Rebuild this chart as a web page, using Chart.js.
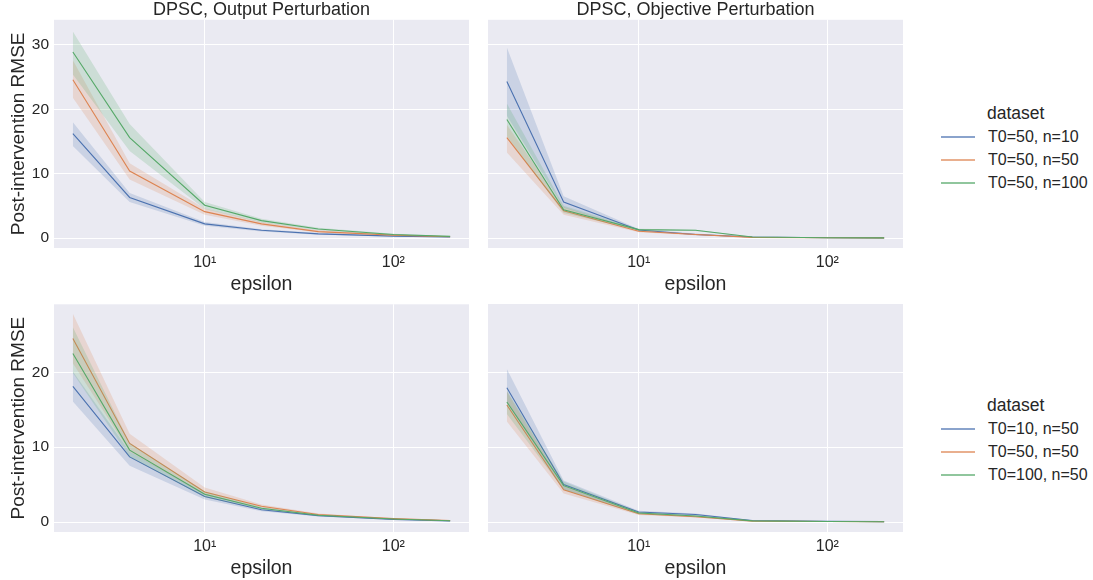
<!DOCTYPE html>
<html>
<head>
<meta charset="utf-8">
<script src="https://cdn.jsdelivr.net/npm/chart.js@4"></script>
<style>
  body { margin: 0; background: #fff; font-family: "Liberation Sans", Arial, sans-serif; color: #262626; }
  #wrap { position: relative; width: 1093px; height: 580px; overflow: hidden; }
  .box { position: absolute; }
  .legtitle, .legtext { position: absolute; white-space: nowrap; line-height: 20px; }
  .legtitle { font-size: 17.5px; }
  .legtext { font-size: 16px; }
  .legline { position: absolute; width: 34px; height: 2px; }
</style>
</head>
<body>
<div id="wrap">
  <div class="box" style="left:0;top:0;width:469px;height:300px"><canvas id="c1"></canvas></div>
  <div class="box" style="left:470px;top:0;width:433px;height:300px"><canvas id="c2"></canvas></div>
  <div class="box" style="left:0;top:290px;width:469px;height:290px"><canvas id="c3"></canvas></div>
  <div class="box" style="left:470px;top:290px;width:433px;height:290px"><canvas id="c4"></canvas></div>
  <div id="leg1"></div>
  <div id="leg2"></div>
</div>
<script>
// x values (epsilon) and axis ticks
var eps = [2, 4, 10, 20, 40, 100, 200];
var xTicks = [10, 100];
var xTickLabels = ['10\u00b9', '10\u00b2'];

// top row legend / bottom row legend
var topLabels = ['T0=50, n=10', 'T0=50, n=50', 'T0=50, n=100'];
var botLabels = ['T0=10, n=50', 'T0=50, n=50', 'T0=100, n=50'];

// DPSC, Output Perturbation - varying n
var opN10    = [16.2, 6.3, 2.2, 1.2, 0.65, 0.3, 0.15];
var opN10Lo  = [14.3, 5.6, 1.9, 1.0, 0.5, 0.22, 0.1];
var opN10Hi  = [18.0, 7.0, 2.5, 1.35, 0.8, 0.38, 0.2];
var opN50    = [24.6, 10.4, 4.1, 2.2, 1.0, 0.45, 0.2];
var opN50Lo  = [21.8, 9.1, 3.6, 1.9, 0.85, 0.37, 0.15];
var opN50Hi  = [27.6, 11.6, 4.6, 2.5, 1.2, 0.55, 0.25];
var opN100   = [28.9, 15.6, 5.1, 2.7, 1.4, 0.55, 0.25];
var opN100Lo = [25.4, 13.5, 4.5, 2.4, 1.2, 0.45, 0.2];
var opN100Hi = [32.1, 17.7, 5.6, 3.0, 1.6, 0.65, 0.3];

// DPSC, Objective Perturbation - varying n
var objN10    = [24.3, 5.6, 1.25, 0.55, 0.15, 0.05, 0.03];
var objN10Lo  = [19.0, 4.7, 1.1, 0.45, 0.1, 0.03, 0.02];
var objN10Hi  = [29.6, 6.5, 1.4, 0.7, 0.2, 0.08, 0.05];
var objN50    = [15.6, 4.25, 1.05, 0.55, 0.1, 0.04, 0.03];
var objN50Lo  = [13.3, 3.6, 0.9, 0.45, 0.07, 0.03, 0.02];
var objN50Hi  = [17.6, 4.8, 1.2, 0.65, 0.14, 0.06, 0.04];
var objN100   = [18.4, 4.4, 1.3, 1.2, 0.15, 0.05, 0.03];
var objN100Lo = [15.8, 3.9, 1.15, 1.1, 0.1, 0.03, 0.02];
var objN100Hi = [20.9, 5.0, 1.45, 1.3, 0.2, 0.08, 0.05];

// Output Perturbation - varying T0
var opT10    = [18.1, 8.7, 3.4, 1.65, 0.85, 0.35, 0.15];
var opT10Lo  = [16.1, 7.5, 3.0, 1.45, 0.75, 0.3, 0.12];
var opT10Hi  = [20.1, 9.4, 3.8, 1.85, 0.95, 0.4, 0.18];
var opT50    = [24.5, 10.5, 4.0, 2.1, 1.0, 0.45, 0.2];
var opT50Lo  = [21.2, 9.4, 3.6, 1.9, 0.9, 0.4, 0.17];
var opT50Hi  = [27.8, 11.8, 4.6, 2.35, 1.15, 0.5, 0.23];
var opT100   = [22.5, 9.6, 3.7, 1.85, 0.9, 0.4, 0.18];
var opT100Lo = [19.9, 8.7, 3.3, 1.7, 0.8, 0.35, 0.15];
var opT100Hi = [26.0, 10.6, 4.1, 2.0, 1.0, 0.45, 0.21];

// Objective Perturbation - varying T0
var objT10    = [17.9, 5.0, 1.33, 1.0, 0.2, 0.1, 0.05];
var objT10Lo  = [15.9, 4.3, 1.15, 0.85, 0.15, 0.07, 0.03];
var objT10Hi  = [20.4, 5.55, 1.5, 1.15, 0.25, 0.13, 0.07];
var objT50    = [15.6, 4.3, 1.1, 0.7, 0.12, 0.06, 0.03];
var objT50Lo  = [13.4, 3.8, 0.95, 0.6, 0.09, 0.04, 0.02];
var objT50Hi  = [17.4, 4.8, 1.25, 0.8, 0.16, 0.08, 0.05];
var objT100   = [16.0, 4.85, 1.2, 0.8, 0.15, 0.08, 0.04];
var objT100Lo = [14.4, 4.3, 1.05, 0.7, 0.1, 0.05, 0.03];
var objT100Hi = [17.5, 5.4, 1.35, 0.9, 0.2, 0.1, 0.06];

var colors = ['#4c72b0', '#dd8452', '#55a868'];
var fontFam = '"Liberation Sans", Arial, sans-serif';
var textCol = '#262626';

function rgba(hex, a) {
  var n = parseInt(hex.slice(1), 16);
  return 'rgba(' + (n >> 16) + ',' + ((n >> 8) & 255) + ',' + (n & 255) + ',' + a + ')';
}
function pts(arr) {
  return eps.map(function(e, i) { return {x: e, y: arr[i]}; });
}

// each series: upper band, lower band (filled to upper), mean line
function makeSets(groups) {
  var sets = [];
  groups.forEach(function(g, k) {
    var c = colors[k];
    var ord = (2 - k) * 2;  // later hue on top, like seaborn
    sets.push({ data: pts(g[2]), borderWidth: 0, pointRadius: 0, fill: false, order: ord + 1 });
    sets.push({ data: pts(g[1]), borderWidth: 0, pointRadius: 0, fill: '-1',
                backgroundColor: rgba(c, 0.2), order: ord + 1 });
    sets.push({ data: pts(g[0]), borderColor: c, borderWidth: 1.1, pointRadius: 0,
                fill: false, order: ord });
  });
  return sets;
}

var bgPlugin = {
  id: 'bg',
  beforeDraw: function(chart) {
    var a = chart.chartArea, ctx = chart.ctx;
    ctx.save();
    ctx.fillStyle = '#eaeaf2';
    ctx.fillRect(a.left, a.top, a.right - a.left, a.bottom - a.top);
    ctx.restore();
  }
};

function makeChart(id, groups, opt) {
  var ctx = document.getElementById(id).getContext('2d');
  return new Chart(ctx, {
    type: 'line',
    data: { datasets: makeSets(groups) },
    plugins: [bgPlugin],
    options: {
      responsive: true,
      maintainAspectRatio: false,
      animation: false,
      layout: { padding: { top: opt.padTop, left: 0, right: 0, bottom: 0 } },
      plugins: {
        legend: { display: false },
        tooltip: { enabled: false },
        title: {
          display: !!opt.title, text: opt.title, fullSize: false,
          color: textCol, font: { size: 18, family: fontFam, weight: 'normal', lineHeight: 1.1 },
          padding: { top: 0, bottom: 0 }
        }
      },
      scales: {
        x: {
          type: 'logarithmic', min: 1.5887, max: 251.8,
          afterBuildTicks: function(s) { s.ticks = xTicks.map(function(v) { return {value: v}; }); },
          afterFit: function(s) { s.height = opt.xH; },
          grid: { color: '#ffffff', lineWidth: 1, drawTicks: false },
          border: { display: false },
          ticks: {
            padding: 5, color: textCol, font: { size: 16, family: fontFam },
            maxRotation: 0, autoSkip: false,
            callback: function(v, i) { return xTickLabels[i]; }
          },
          title: {
            display: true, text: 'epsilon', color: textCol,
            font: { size: 19.5, family: fontFam }, padding: { top: 0, bottom: opt.xTitlePad }
          }
        },
        y: {
          min: opt.yMin, max: opt.yMax,
          afterBuildTicks: function(s) { s.ticks = opt.yTicks.map(function(v) { return {value: v}; }); },
          afterFit: function(s) { s.width = opt.showY ? 54 : 18; },
          grid: { color: '#ffffff', lineWidth: 1, drawTicks: false },
          border: { display: false },
          ticks: { display: opt.showY, padding: 5, color: textCol, font: { size: 15.5, family: fontFam } },
          title: {
            display: opt.showY, text: 'Post-intervention RMSE', color: textCol,
            font: { size: 19, family: fontFam }, padding: { top: 7, bottom: 0 }
          }
        }
      }
    }
  });
}

var topY = { yMin: -1.55, yMax: 33.9, yTicks: [0, 10, 20, 30], padTop: 0, xH: 52, xTitlePad: 4 };
var botY = { yMin: -1.33, yMax: 29.07, yTicks: [0, 10, 20], padTop: 14, xH: 48, xTitlePad: 0 };

makeChart('c1', [[opN10, opN10Lo, opN10Hi], [opN50, opN50Lo, opN50Hi], [opN100, opN100Lo, opN100Hi]],
  Object.assign({ title: 'DPSC, Output Perturbation', showY: true }, topY));
makeChart('c2', [[objN10, objN10Lo, objN10Hi], [objN50, objN50Lo, objN50Hi], [objN100, objN100Lo, objN100Hi]],
  Object.assign({ title: 'DPSC, Objective Perturbation', showY: false }, topY));
makeChart('c3', [[opT10, opT10Lo, opT10Hi], [opT50, opT50Lo, opT50Hi], [opT100, opT100Lo, opT100Hi]],
  Object.assign({ title: '', showY: true }, botY));
makeChart('c4', [[objT10, objT10Lo, objT10Hi], [objT50, objT50Lo, objT50Hi], [objT100, objT100Lo, objT100Hi]],
  Object.assign({ title: '', showY: false }, botY));

// legends beside the right-hand panels
function legend(el, labels, titleY, rowYs) {
  var h = '<div class="legtitle" style="left:987px;top:' + (titleY - 10) + 'px">dataset</div>';
  labels.forEach(function(l, i) {
    h += '<div class="legline" style="left:941px;top:' + (rowYs[i] - 1) + 'px;background:' + rgba(colors[i], 0.65) + '"></div>';
    h += '<div class="legtext" style="left:988px;top:' + (rowYs[i] - 10) + 'px">' + l + '</div>';
  });
  document.getElementById(el).innerHTML = h;
}
legend('leg1', topLabels, 113, [137, 160, 183]);
legend('leg2', botLabels, 405, [429, 452, 475]);
</script>
</body>
</html>
